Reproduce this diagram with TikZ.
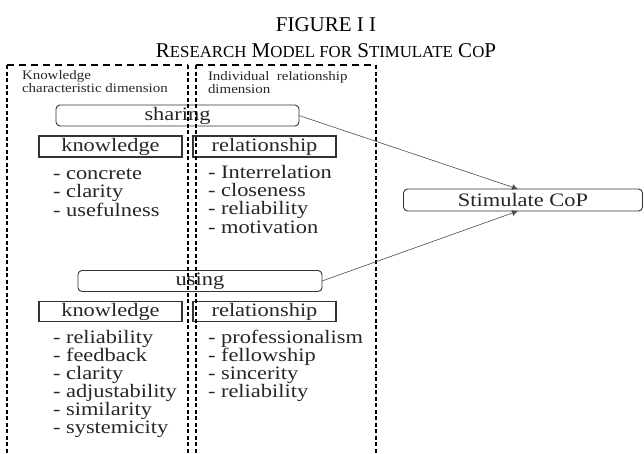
\documentclass[tikz,border=0pt]{standalone}
\usepackage{fontspec}
\setmainfont{Liberation Serif}
\newfontfamily\bodyfont{Liberation Serif}[FakeStretch=1.18]
\newfontfamily\headfont{Liberation Serif}[FakeStretch=1.15]
\usetikzlibrary{arrows.meta}
\newcommand\smcp[1]{{\fontsize{16.8}{18}\selectfont #1}}
\begin{document}
\begin{tikzpicture}[x=1pt,y=-1pt,
  every node/.style={inner sep=0pt, outer sep=0pt},
  titletext/.style={font=\fontsize{21}{24}\selectfont, anchor=base},
  headtext/.style={font=\headfont\fontsize{13}{13}\selectfont, anchor=base west, align=left, text=black!85},
  itemtext/.style={font=\bodyfont\fontsize{19}{18.3}\selectfont, anchor=base west, text=black!85, text height=13pt, text depth=3.5pt},
  roundbox/.style={draw=black!80, line width=0.9pt, rounded corners=4pt, font=\bodyfont\fontsize{19}{22}\selectfont, text=black!85},
  squarebox/.style={draw=black!80, line width=1.1pt, font=\bodyfont\fontsize{19}{22}\selectfont, text=black!85, minimum width=143pt},
  vdash/.style={line width=1.2pt, dash pattern=on 4pt off 2.5pt},
  hdash/.style={line width=1.2pt, dash pattern=on 7pt off 5pt},
  conn/.style={draw=black!70, line width=0.6pt, -{Latex[length=6pt,width=6pt]}}
]
\useasboundingbox (0,0) rectangle (644,453);

% title
\node[titletext] (t1) at (326,31) {FIGURE I I};
\node[titletext] (t2) at (326,57) {R\smcp{ESEARCH} M\smcp{ODEL FOR} S\smcp{TIMULATE} C\smcp{O}P};

% headings (anchored at the baseline of the second line)
\node[headtext] (h1) at (22,92) {Knowledge\\characteristic dimension};
\node[headtext] (h2) at (208,93) {Individual\ \ relationship\\dimension};

% boxes
\node[roundbox, minimum width=243pt, minimum height=21pt] (sharing) at (177.5,115.5) {sharing};
\node[squarebox, minimum height=21pt] (know1) at (110.5,146.5) {knowledge};
\node[squarebox, minimum height=21pt] (rel1) at (264.5,146.5) {relationship};
\node[roundbox, minimum width=244pt, minimum height=21pt] (using) at (200,281) {using};
\node[squarebox, minimum height=19.5pt] (know2) at (110.5,311.5) {knowledge};
\node[squarebox, minimum height=19.5pt] (rel2) at (264.5,311.5) {relationship};
\node[roundbox, minimum width=239pt, minimum height=22pt] (stim) at (523,200) {Stimulate CoP};

% items
\node[itemtext] (a1) at (53,179) {- concrete};
\node[itemtext] (a2) at (53,197.5) {- clarity};
\node[itemtext] (a3) at (53,216) {- usefulness};
\node[itemtext] (b1) at (208,178) {- Interrelation};
\node[itemtext] (b2) at (208,196.5) {- closeness};
\node[itemtext] (b3) at (208,214.5) {- reliability};
\node[itemtext] (b4) at (208,233) {- motivation};
\node[itemtext] (c1) at (53,343) {- reliability};
\node[itemtext] (c2) at (53,361) {- feedback};
\node[itemtext] (c3) at (53,379) {- clarity};
\node[itemtext] (c4) at (53,397) {- adjustability};
\node[itemtext] (c5) at (53,415) {- similarity};
\node[itemtext] (c6) at (53,433) {- systemicity};
\node[itemtext] (d1) at (208,343) {- professionalism};
\node[itemtext] (d2) at (208,361) {- fellowship};
\node[itemtext] (d3) at (208,379) {- sincerity};
\node[itemtext] (d4) at (208,397) {- reliability};

% dashed frames
\draw[hdash] (7,65) -- (188,65);
\draw[hdash] (196,65) -- (376,65);
\draw[vdash] (7,65) -- (7,453);
\draw[vdash] (188,65) -- (188,453);
\draw[vdash] (196,65) -- (196,453);
\draw[vdash] (376,65) -- (376,453);

% connectors
\draw[conn] (sharing.east) -- ([xshift=-5pt]stim.north);
\draw[conn] (using.east) -- ([xshift=-5pt]stim.south);
\end{tikzpicture}
\end{document}
